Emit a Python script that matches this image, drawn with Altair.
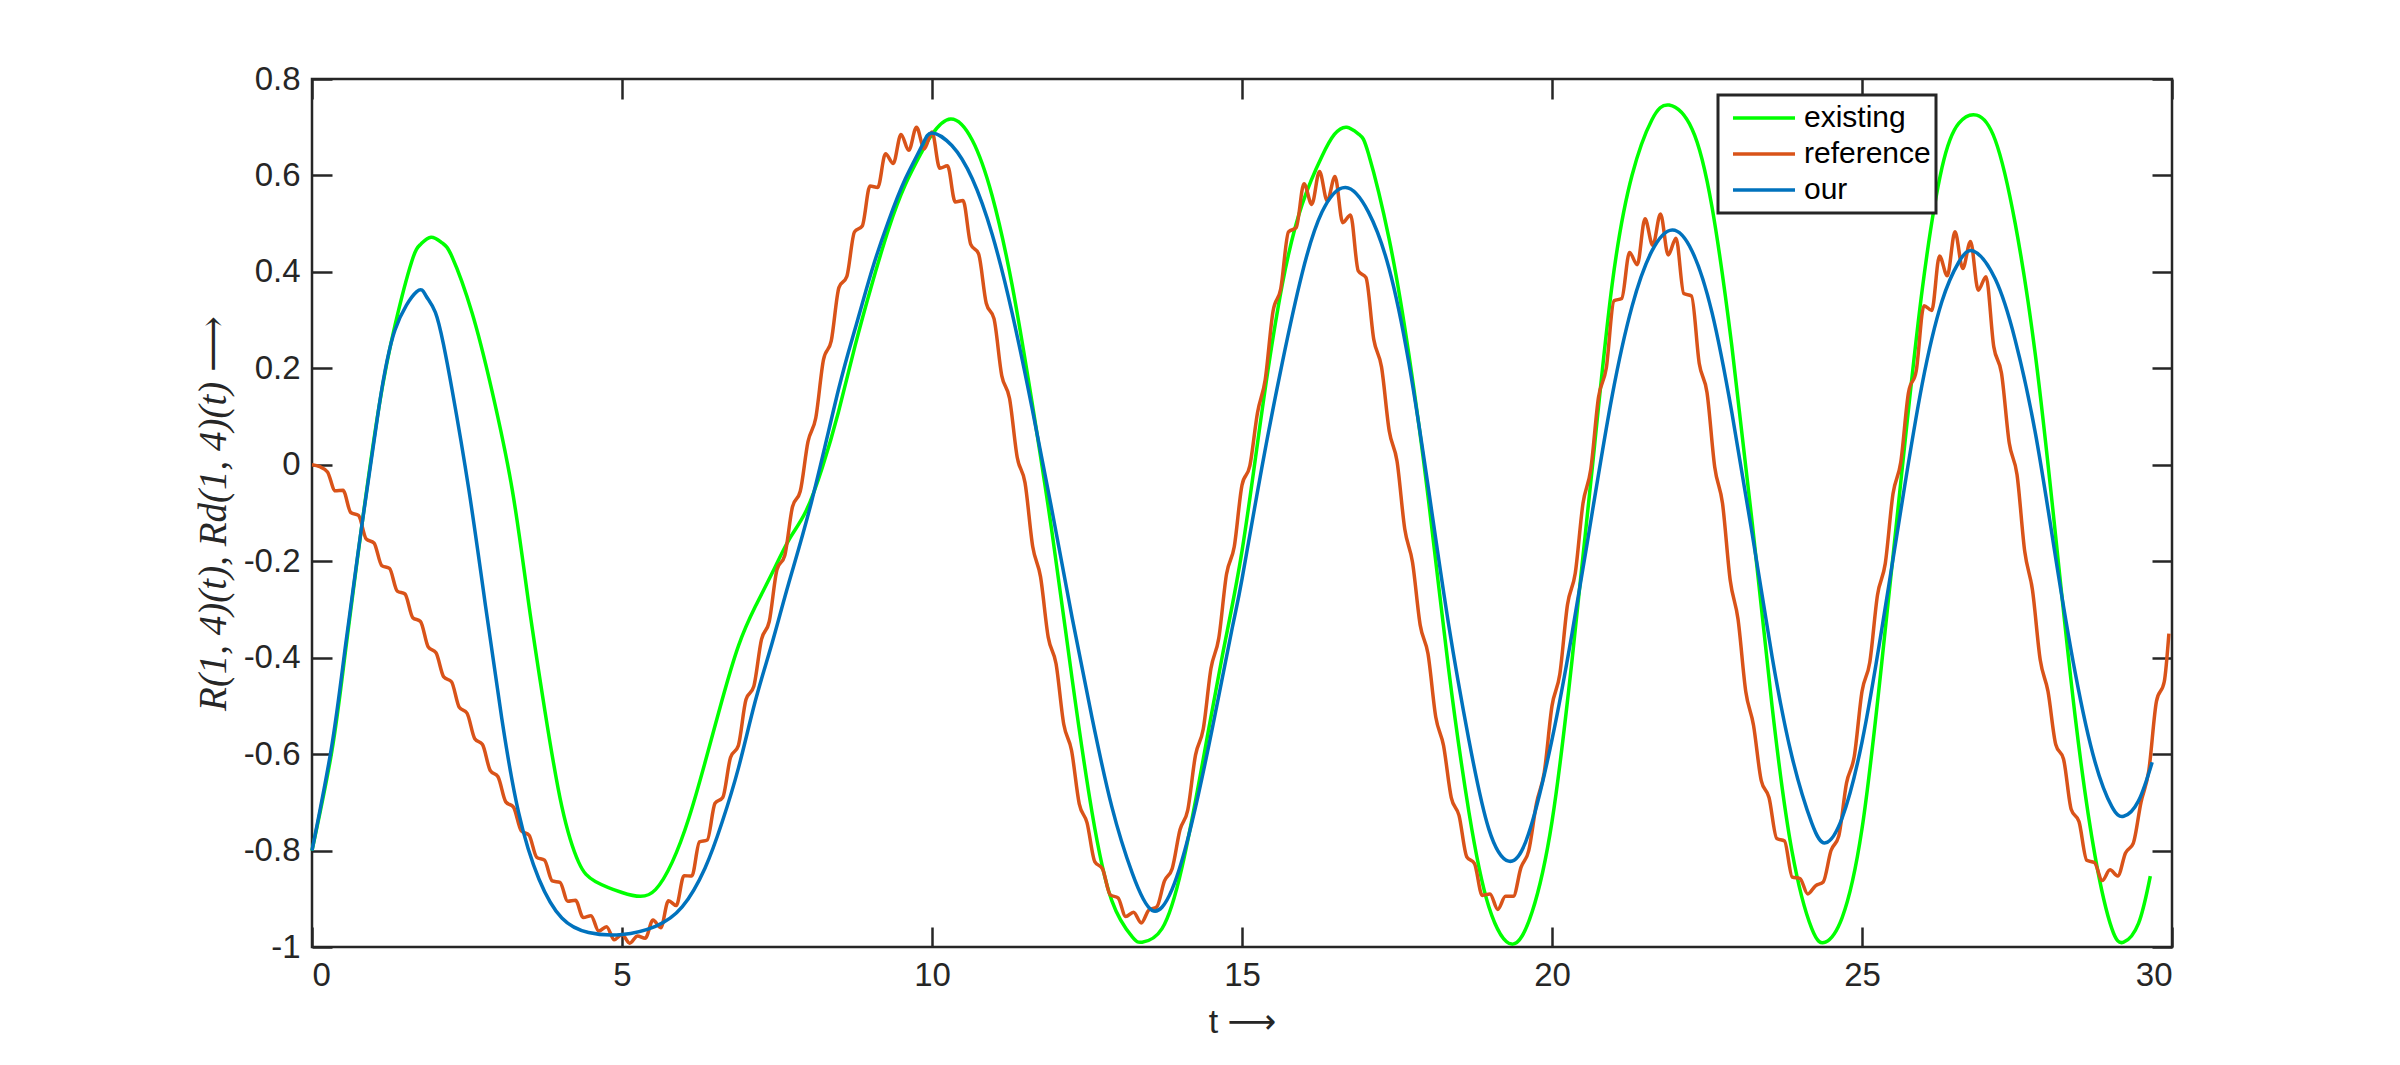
import altair as alt
import pandas as pd

# ---------------- data ----------------
series_names = ["existing", "reference", "our"]
series_colors = ["#00FF00", "#D95319", "#0072BD"]
x_ticks = [0, 5, 10, 15, 20, 25, 30]
y_ticks = [-1, -0.8, -0.6, -0.4, -0.2, 0, 0.2, 0.4, 0.6, 0.8]

existing_t = [0, 0.32, 0.54, 0.81, 1.08, 1.34, 1.61, 1.75, 1.92, 2.10, 2.26, 2.58, 2.90, 3.23,
              3.49, 3.76, 4.03, 4.30, 4.57, 5.0, 5.30, 5.54, 5.81, 6.08, 6.34, 6.61, 6.88, 7.15,
              7.42, 7.69, 7.96, 8.23, 8.49, 8.76, 9.03, 9.30, 9.57, 9.84, 10.0, 10.30, 10.65,
              10.97, 11.29, 11.61, 11.94, 12.26, 12.58, 12.90, 13.23, 13.39, 13.71, 14.03, 14.35,
              14.68, 15.0, 15.32, 15.65, 15.97, 16.29, 16.49, 16.69, 16.89, 17.04, 17.37, 17.69,
              18.01, 18.33, 18.66, 18.98, 19.35, 19.68, 20.0, 20.32, 20.65, 20.97, 21.29, 21.61,
              21.89, 22.26, 22.58, 22.90, 23.23, 23.55, 23.87, 24.19, 24.41, 24.68, 25.0, 25.32,
              25.65, 25.97, 26.29, 26.56, 26.85, 27.15, 27.47, 27.80, 28.12, 28.44, 28.76, 29.03,
              29.22, 29.46, 29.65]
existing_v = [-0.8, -0.594, -0.386, -0.12, 0.12, 0.29, 0.422, 0.457, 0.472, 0.46, 0.431, 0.316,
              0.155, -0.052, -0.283, -0.513, -0.709, -0.824, -0.864, -0.887, -0.895, -0.881,
              -0.824, -0.732, -0.617, -0.49, -0.375, -0.294, -0.225, -0.156, -0.098, -0.006,
              0.109, 0.247, 0.374, 0.489, 0.581, 0.65, 0.685, 0.717, 0.673, 0.558, 0.374, 0.132,
              -0.144, -0.444, -0.72, -0.904, -0.979, -0.99, -0.962, -0.836, -0.628, -0.398,
              -0.179, 0.109, 0.374, 0.54, 0.64, 0.685, 0.70, 0.685, 0.645, 0.47, 0.23, -0.075,
              -0.421, -0.72, -0.916, -0.994, -0.927, -0.74, -0.409, -0.006, 0.374, 0.60, 0.715,
              0.746, 0.696, 0.535, 0.247, -0.121, -0.501, -0.801, -0.962, -0.99, -0.939, -0.755,
              -0.409, -0.006, 0.362, 0.616, 0.708, 0.725, 0.673, 0.501, 0.224, -0.144, -0.524,
              -0.812, -0.962, -0.99, -0.951, -0.853]

our_t = [0, 0.32, 0.54, 0.81, 1.08, 1.34, 1.69, 1.84, 1.99, 2.12, 2.26, 2.53, 2.80, 3.06, 3.33,
         3.66, 4.03, 4.46, 5.0, 5.54, 5.97, 6.34, 6.61, 6.88, 7.15, 7.42, 7.69, 8.06, 8.49, 8.76,
         9.03, 9.30, 9.57, 9.84, 10.0, 10.32, 10.65, 10.97, 11.29, 11.61, 11.94, 12.26, 12.58,
         12.90, 13.23, 13.55, 13.87, 14.19, 14.52, 14.84, 15.0, 15.32, 15.65, 15.97, 16.29, 16.67,
         17.04, 17.37, 17.69, 18.01, 18.33, 18.66, 18.98, 19.30, 19.62, 20.0, 20.32, 20.65, 20.97,
         21.29, 21.61, 21.94, 22.26, 22.58, 22.90, 23.23, 23.55, 23.87, 24.19, 24.41, 24.68, 25.0,
         25.32, 25.65, 25.97, 26.29, 26.56, 26.80, 27.15, 27.47, 27.80, 28.12, 28.44, 28.76, 29.03,
         29.22, 29.46, 29.68]
our_v = [-0.8, -0.582, -0.375, -0.12, 0.12, 0.28, 0.359, 0.35, 0.316, 0.25, 0.155, -0.052,
         -0.294, -0.525, -0.72, -0.859, -0.94, -0.97, -0.974, -0.957, -0.917, -0.836, -0.743,
         -0.628, -0.49, -0.37, -0.245, -0.075, 0.155, 0.282, 0.403, 0.506, 0.593, 0.662, 0.688,
         0.662, 0.593, 0.478, 0.316, 0.12, -0.098, -0.317, -0.524, -0.709, -0.847, -0.924, -0.881,
         -0.743, -0.547, -0.34, -0.237, -0.006, 0.212, 0.397, 0.524, 0.575, 0.524, 0.408, 0.212,
         -0.052, -0.329, -0.571, -0.755, -0.822, -0.766, -0.57, -0.352, -0.098, 0.143, 0.328,
         0.443, 0.487, 0.443, 0.316, 0.109, -0.144, -0.398, -0.605, -0.743, -0.784, -0.732,
         -0.575, -0.34, -0.075, 0.167, 0.339, 0.42, 0.443, 0.385, 0.259, 0.063, -0.19, -0.432,
         -0.617, -0.709, -0.729, -0.697, -0.617]

# reference signal, read every 0.125 s (ripples included), plus its last point
reference_v = [
    0.0, -0.004, -0.015, -0.054, -0.053, -0.099, -0.105, -0.154, -0.162, -0.209,
    -0.215, -0.262, -0.268, -0.317, -0.325, -0.378, -0.39, -0.44, -0.45, -0.503,
    -0.515, -0.568, -0.58, -0.634, -0.647, -0.699, -0.71, -0.759, -0.768, -0.814,
    -0.82, -0.863, -0.866, -0.905, -0.903, -0.939, -0.935, -0.967, -0.958, -0.985,
    -0.974, -0.992, -0.977, -0.982, -0.944, -0.96, -0.904, -0.914, -0.852, -0.853,
    -0.782, -0.778, -0.702, -0.69, -0.607, -0.583, -0.487, -0.46, -0.362, -0.325,
    -0.217, -0.188, -0.087, -0.055, 0.048, 0.097, 0.218, 0.257, 0.368, 0.39,
    0.483, 0.495, 0.578, 0.575, 0.645, 0.625, 0.685, 0.652, 0.7, 0.655,
    0.69, 0.615, 0.62, 0.545, 0.548, 0.457, 0.438, 0.335, 0.303, 0.185,
    0.138, 0.015, -0.037, -0.17, -0.232, -0.358, -0.412, -0.538, -0.592, -0.703,
    -0.742, -0.823, -0.838, -0.892, -0.898, -0.937, -0.928, -0.95, -0.923, -0.917,
    -0.863, -0.837, -0.757, -0.716, -0.602, -0.548, -0.422, -0.36, -0.227, -0.17,
    -0.042, -0.003, 0.108, 0.177, 0.318, 0.365, 0.483, 0.492, 0.583, 0.54,
    0.608, 0.547, 0.598, 0.502, 0.518, 0.402, 0.388, 0.26, 0.203, 0.07,
    0.008, -0.133, -0.202, -0.333, -0.392, -0.523, -0.582, -0.69, -0.727, -0.813,
    -0.827, -0.893, -0.89, -0.922, -0.895, -0.895, -0.835, -0.8, -0.702, -0.638,
    -0.5, -0.435, -0.29, -0.225, -0.08, -0.01, 0.14, 0.2, 0.34, 0.345,
    0.44, 0.415, 0.51, 0.455, 0.52, 0.435, 0.47, 0.355, 0.35, 0.21,
    0.15, -0.005, -0.08, -0.24, -0.32, -0.47, -0.54, -0.655, -0.69, -0.775,
    -0.78, -0.855, -0.858, -0.89, -0.873, -0.865, -0.8, -0.77, -0.66, -0.605,
    -0.47, -0.41, -0.27, -0.205, -0.06, 0.005, 0.15, 0.195, 0.33, 0.32,
    0.433, 0.392, 0.483, 0.407, 0.463, 0.362, 0.39, 0.245, 0.19, 0.045,
    -0.02, -0.18, -0.26, -0.405, -0.47, -0.58, -0.61, -0.715, -0.74, -0.82,
    -0.825, -0.862, -0.84, -0.853, -0.805, -0.785, -0.7, -0.635, -0.49, -0.45,
    -0.35,
]
reference_t = [i * 0.125 for i in range(240)] + [29.95]

# ---------------- table ----------------
df = pd.concat([
    pd.DataFrame({"t": existing_t, "v": existing_v, "series": "existing"}),
    pd.DataFrame({"t": reference_t, "v": reference_v, "series": "reference"}),
    pd.DataFrame({"t": our_t, "v": our_v, "series": "our"}),
], ignore_index=True)

W, H = 1860, 868
FONT = "Liberation Sans"
AXC = "#262626"
TICK = 20

xscale = alt.Scale(domain=[0, 30], nice=False, zero=False)
yscale = alt.Scale(domain=[-1, 0.8], nice=False, zero=False)

color = alt.Color(
    "series:N",
    scale=alt.Scale(domain=series_names, range=series_colors),
    legend=alt.Legend(
        orient="none", legendX=1406, legendY=16, title=None,
        symbolType="stroke", symbolSize=3844, symbolStrokeWidth=3.5,
        clipHeight=36, rowPadding=0, padding=5, symbolOffset=8,
        labelFont=FONT, labelFontSize=30, labelColor="black", labelOffset=7,
        strokeColor=AXC, fillColor="white",
    ),
)

tick_common = dict(domain=False, grid=False, ticks=True, tickSize=TICK, tickWidth=2.5,
                   tickColor=AXC, offset=-TICK)

x_bottom = alt.Axis(orient="bottom", values=x_ticks, title="t ⟶", labelFont=FONT,
                    labelFontSize=33, labelColor=AXC, labelPadding=12,
                    titleFont="Liberation Sans, DejaVu Sans",
                    titleFontSize=34, titleFontWeight="normal", titleColor=AXC,
                    titlePadding=13, **tick_common)
y_left = alt.Axis(orient="left", values=y_ticks, title="R(1, 4)(t),  Rd(1, 4)(t) ⟶",
                  labelExpr="datum.value == 0 ? '0' : toString(round(datum.value * 10) / 10)",
                  labelFont=FONT, labelFontSize=33, labelColor=AXC, labelPadding=12,
                  titleFont="Liberation Serif, DejaVu Serif, DejaVu Sans",
                  titleFontStyle="italic", titleFontSize=39,
                  titleFontWeight="normal", titleColor=AXC, titlePadding=10, **tick_common)
x_top = alt.Axis(orient="top", values=x_ticks, labels=False, title=None, **tick_common)
y_right = alt.Axis(orient="right", values=y_ticks, labels=False, title=None, **tick_common)

base = alt.Chart(df)


def series_line(name, xaxis, yaxis, interp):
    return base.transform_filter(alt.datum.series == name).mark_line(
        strokeWidth=3.5, interpolate=interp
    ).encode(
        x=alt.X("t:Q", scale=xscale, axis=xaxis),
        y=alt.Y("v:Q", scale=yscale, axis=yaxis),
        color=color,
    )


chart = alt.layer(
    series_line("existing", x_bottom, y_left, "natural"),
    series_line("reference", x_top, y_right, "monotone"),
    series_line("our", None, None, "natural"),
).resolve_axis(x="independent", y="independent").properties(
    width=W, height=H,
    autosize=alt.AutoSizeParams(type="none"),
    padding={"left": 312, "top": 79, "right": 228, "bottom": 118},
    background="white",
).configure_view(stroke=AXC, strokeWidth=2.5).configure_legend(strokeWidth=3)

chart.save("out.html", embed_options={"renderer": "svg", "actions": False})
